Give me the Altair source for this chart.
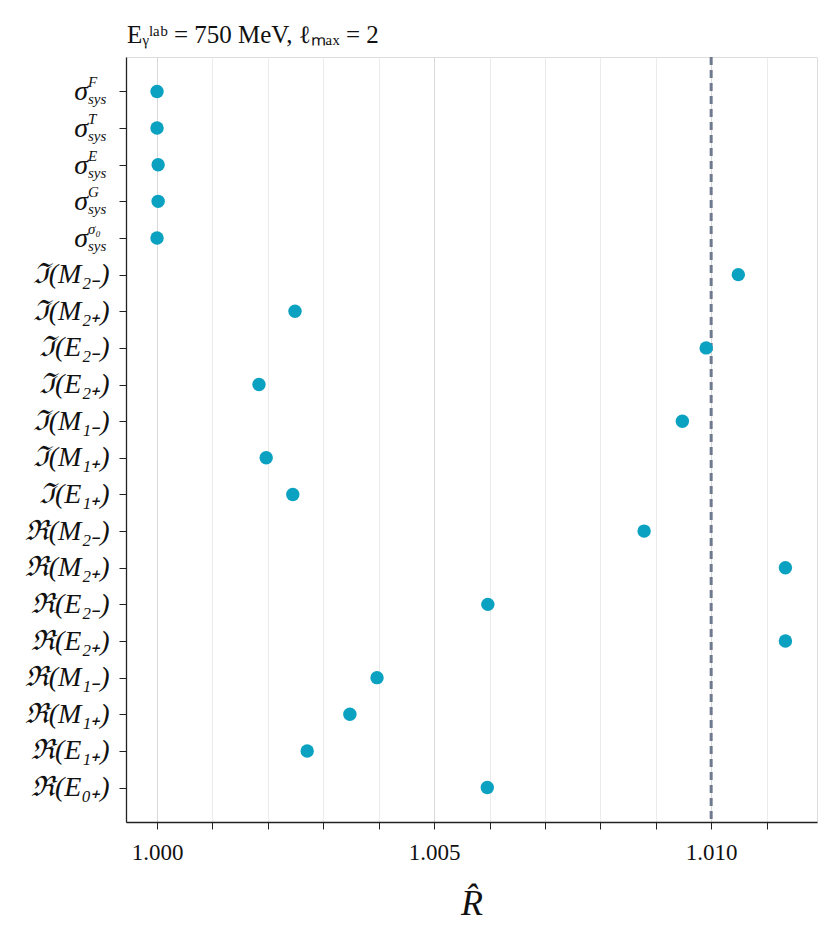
import altair as alt
import pandas as pd

labels = ["σF", "σT", "σE", "σG", "σσ0",
          "ℑ(M₂₋)", "ℑ(M₂₊)", "ℑ(E₂₋)", "ℑ(E₂₊)", "ℑ(M₁₋)", "ℑ(M₁₊)", "ℑ(E₁₊)",
          "ℜ(M₂₋)", "ℜ(M₂₊)", "ℜ(E₂₋)", "ℜ(E₂₊)", "ℜ(M₁₋)", "ℜ(M₁₊)", "ℜ(E₁₊)", "ℜ(E₀₊)"]
values = [1.00000, 1.00000, 1.00002, 1.00002, 1.00000,
          1.01049, 1.00249, 1.00991, 1.00184, 1.00948, 1.00197, 1.00245,
          1.00879, 1.01134, 1.00597, 1.01134, 1.00397, 1.00348, 1.00271, 1.00596]
sigma_keys = ["σF", "σT", "σE", "σG", "σσ0"]
sigma_sup = ["F", "T", "E", "G", "σ₀"]
threshold = [1.010]
tick_values = [1.000, 1.001, 1.002, 1.003, 1.004, 1.005, 1.006, 1.007, 1.008, 1.009, 1.010, 1.011]
title_text = ["Eᵧˡᵃᵇ = 750 MeV, ℓₘₐₓ = 2"]

df = pd.DataFrame({"label": labels, "R": values})
sig = pd.DataFrame({"label": sigma_keys, "sup": sigma_sup, "base": ["σ"] * 5, "sub": ["sys"] * 5})
thr = pd.DataFrame({"R": threshold})
ttl = pd.DataFrame({"t": title_text})

FONT = "Liberation Serif"

yscale = alt.Scale(domain=labels, type="point", padding=0.94)
xscale = alt.Scale(domain=[0.99944, 1.01191], nice=False, zero=False)

points = alt.Chart(df).mark_circle(size=180, opacity=1, color="#0aa2c0").encode(
    x=alt.X("R:Q", scale=xscale, title="R̂",
            axis=alt.Axis(values=tick_values,
                          labelExpr="round(datum.value*1000) % 5 == 0 ? format(datum.value, '.3f') : ''",
                          gridColor={"condition": {"test": "round(datum.value*1000) % 5 == 0", "value": "#d9d9d9"},
                                     "value": "#ebebeb"},
                          labelFontSize=23, labelFont=FONT, labelColor="#111",
                          titleFontSize=36, titleFont=FONT, titleFontStyle="italic", titleFontWeight="normal",
                          titleColor="#111", titlePadding=22,
                          tickSize=7, tickColor="#222", domainColor="#222", domainWidth=1.3,
                          labelPadding=12, labelFlush=False)),
    y=alt.Y("label:N", scale=yscale, sort=labels, title=None,
            axis=alt.Axis(labelExpr="indexof(datum.label, 'σ') == 0 ? '' : datum.label",
                          labelFontSize=28, labelFont=FONT, labelColor="#111", labelFontStyle="italic",
                          gridColor="#e0e0e0", tickSize=7, tickColor="#222",
                          domainColor="#222", domainWidth=1.3, labelPadding=10)),
)

rule = alt.Chart(thr).mark_rule(color="#6e7b8e", strokeDash=[8, 5], strokeWidth=3).encode(
    x=alt.X("R:Q", scale=xscale)
)

base_txt = alt.Chart(sig).mark_text(align="right", baseline="middle", fontSize=28, font=FONT,
                                    fontStyle="italic", color="#111", dy=1).encode(
    x=alt.value(-38), y=alt.Y("label:N", scale=yscale, sort=labels), text="base:N")
sup_txt = alt.Chart(sig).mark_text(align="left", baseline="middle", fontSize=15, font=FONT,
                                   fontStyle="italic", color="#111", dy=-9).encode(
    x=alt.value(-38), y=alt.Y("label:N", scale=yscale, sort=labels), text="sup:N")
sub_txt = alt.Chart(sig).mark_text(align="left", baseline="middle", fontSize=15, font=FONT,
                                   fontStyle="italic", color="#111", dy=8).encode(
    x=alt.value(-38), y=alt.Y("label:N", scale=yscale, sort=labels), text="sub:N")

title_txt = alt.Chart(ttl).mark_text(align="left", baseline="alphabetic", fontSize=25, font=FONT,
                                     color="#111").encode(
    x=alt.value(1), y=alt.value(-14), text="t:N")

chart = alt.layer(rule, points, base_txt, sup_txt, sub_txt, title_txt).properties(
    width=691, height=765,
    autosize=alt.AutoSizeParams(type="none"),
    padding={"left": 118, "top": 49, "right": 9, "bottom": 110},
).configure_view(stroke="#222", strokeWidth=1.5).configure(background="white")

chart.save("out.html", embed_options={"renderer": "svg", "actions": False})
